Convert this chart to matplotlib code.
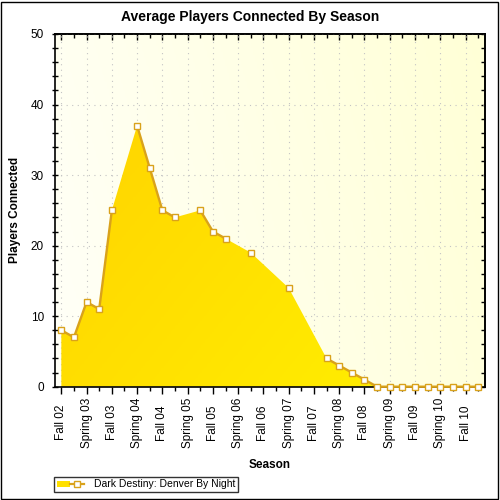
import numpy as np
import matplotlib
matplotlib.use("Agg")
import matplotlib.pyplot as plt
from matplotlib.colors import LinearSegmentedColormap
from matplotlib.patches import Patch, Rectangle
from matplotlib.lines import Line2D
from matplotlib.legend_handler import HandlerTuple

plt.rcParams['font.family'] = ['Liberation Sans', 'DejaVu Sans']

seasons = ["Fall 02", "Spring 03", "Fall 03", "Spring 04", "Fall 04", "Spring 05",
           "Fall 05", "Spring 06", "Fall 06", "Spring 07", "Fall 07", "Spring 08",
           "Fall 08", "Spring 09", "Fall 09", "Spring 10", "Fall 10"]

# one value per half season, None where nothing was recorded
players = [8, 7, 12, 11, 25, None, 37, 31, 25, 24, None, 25, 22, 21, None, 19,
           None, None, 14, None, None, 4, 3, 2, 1, 0, 0, 0, 0, 0, 0, 0, 0, 0]
series_name = "Dark Destiny: Denver By Night"

x = np.arange(len(players)) * 0.5
y = np.array([np.nan if v is None else v for v in players], dtype=float)
ok = ~np.isnan(y)

LINE = "#D9A21B"

fig = plt.figure(figsize=(5, 5), dpi=100)
ax = fig.add_axes([55/500, 1 - 386.7/500, 430/500, (386.7 - 34)/500])
x0, x1 = -0.25, 16.77
ax.set_xlim(x0, x1)
ax.set_ylim(0, 50)

# plot area background gradient
gx, gy = np.meshgrid(np.linspace(0, 1, 200), np.linspace(0, 1, 200))
bg_cmap = LinearSegmentedColormap.from_list("bg", ["#FFFFF8", "#FFFFD6"])
ax.imshow(gx * 0.8 + (1 - gy) * 0.2, cmap=bg_cmap, extent=[x0, x1, 0, 50],
          aspect="auto", origin="upper", zorder=0)

ax.set_axisbelow(True)
ax.grid(True, which="major", linestyle=(0, (1, 4)), color="#C4C4C4", linewidth=0.8)

# area with gradient fill
area = ax.fill_between(x[ok], y[ok], 0, color="none", linewidth=0, zorder=1)
fill_cmap = LinearSegmentedColormap.from_list("fill", ["#FFD000", "#FFF200"])
img = ax.imshow(gx * 0.6 + gy * 0.4, cmap=fill_cmap, extent=[x0, x1, 0, 50],
                aspect="auto", origin="upper", zorder=1)
img.set_clip_path(area.get_paths()[0], transform=ax.transData)

ax.plot(x, y, color=LINE, linewidth=1.7, marker="s", markersize=5,
        markerfacecolor="white", markeredgecolor=LINE, markeredgewidth=1.0,
        zorder=3, clip_on=False)

major_x = np.arange(len(seasons))
minor_x = major_x + 0.5
ax.set_xticks(major_x)
ax.set_xticks(minor_x, minor=True)
ax.set_xticklabels(seasons, rotation=90, va="center", ha="center", fontsize=8.5)
ax.set_yticks(np.arange(0, 51, 10))
ax.set_yticks(np.arange(0, 51, 2), minor=True)
ax.tick_params(axis="y", which="both", direction="inout", length=5, width=1,
               labelsize=8.5, pad=5.4)
ax.tick_params(axis="x", which="major", direction="out", length=5, width=1, pad=21)
ax.tick_params(axis="x", which="minor", direction="out", length=3, width=1)

# inward ticks on top and right
top = ax.secondary_xaxis("top")
top.set_xticks(major_x)
top.set_xticks(minor_x, minor=True)
top.tick_params(which="major", direction="in", length=4, width=1, labeltop=False)
top.tick_params(which="minor", direction="in", length=3, width=1)
right = ax.secondary_yaxis("right")
right.set_yticks(np.arange(0, 51, 10))
right.set_yticks(np.arange(0, 51, 2), minor=True)
right.tick_params(which="both", direction="in", length=3, width=1, labelright=False)

for s in list(ax.spines.values()) + [top.spines["top"], right.spines["right"]]:
    s.set_linewidth(1.2)
    s.set_color("black")

fig.text(0.5, 1 - 17/500, "Average Players Connected By Season", ha="center",
         va="center", fontsize=10, fontweight="bold")
fig.text(15/500, 1 - 210/500, "Players Connected", rotation=90, ha="center",
         va="center", fontsize=8.5, fontweight="bold")
fig.text(270/500, 1 - 465/500, "Season", ha="center", va="center",
         fontsize=8.5, fontweight="bold")

handle = (Patch(facecolor="#FFE000", edgecolor="none"),
          Line2D([], [], color=LINE, linewidth=1.6, marker="s", markersize=5,
                 markerfacecolor="white", markeredgecolor=LINE))
leg = fig.legend([handle], [series_name], handler_map={tuple: HandlerTuple(ndivide=None, pad=0)},
                 loc="lower left", bbox_to_anchor=(54/500, 8/500), fontsize=7.5,
                 frameon=True, fancybox=False, edgecolor="black", borderpad=0.25,
                 handlelength=2.6, handleheight=0.5, handletextpad=1.0,
                 borderaxespad=0)
leg.get_frame().set_linewidth(1)

fig.patches.append(Rectangle((0.002, 0.002), 0.994, 0.994, transform=fig.transFigure,
                             fill=False, edgecolor="black", linewidth=1))

fig.savefig("out.png", dpi=100)
